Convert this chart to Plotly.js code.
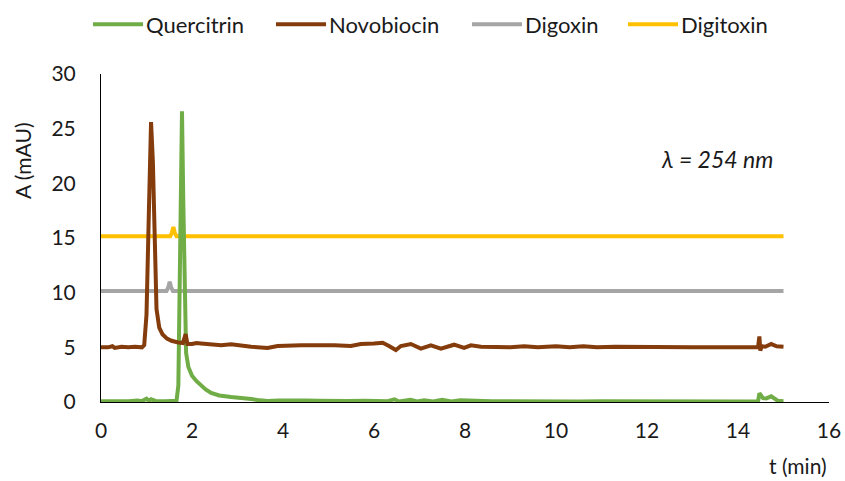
<!DOCTYPE html>
<html>
<head>
<meta charset="utf-8">
<script src="https://cdn.plot.ly/plotly-3.0.1.min.js"></script>
<style>
  html, body { margin: 0; padding: 0; background: #fff; }
  #chart { width: 845px; height: 481px; }
</style>
</head>
<body>
<div id="chart"></div>
<script>
// Chromatograms at 254 nm: absorbance (mAU) against retention time (min)
const seriesNames = ['Quercitrin', 'Novobiocin', 'Digoxin', 'Digitoxin'];
const seriesColors = ['#70AD47', '#843C0C', '#A5A5A5', '#FFC000'];

const quercitrinT = [0, 0.2, 0.4, 0.6, 0.8, 0.9, 1.0, 1.05, 1.1, 1.2, 1.4, 1.6, 1.66, 1.7, 1.74, 1.78, 1.81, 1.84, 1.87, 1.92, 2.0, 2.1, 2.2, 2.3, 2.42, 2.6, 2.86, 3.15, 3.3, 3.44, 3.66, 3.9, 4.2, 4.5, 4.8, 5.1, 5.4, 5.8, 6.1, 6.3, 6.45, 6.55, 6.8, 6.95, 7.1, 7.3, 7.5, 7.7, 7.9, 8.2, 8.6, 9.0, 9.5, 10.0, 10.5, 11.0, 11.5, 12.0, 12.5, 13.0, 13.5, 14.0, 14.44, 14.47, 14.55, 14.62, 14.73, 14.87, 15.0];
const quercitrinA = [0.08, 0.06, 0.1, 0.08, 0.14, 0.08, 0.3, 0.1, 0.25, 0.1, 0.08, 0.08, 0.12, 1.5, 14, 26.6, 18, 8, 4.5, 3.2, 2.4, 1.9, 1.5, 1.15, 0.82, 0.6, 0.45, 0.38, 0.28, 0.18, 0.1, 0.14, 0.18, 0.14, 0.12, 0.15, 0.1, 0.12, 0.15, 0.08, 0.25, 0.05, 0.2, 0.05, 0.15, 0.05, 0.2, 0.05, 0.15, 0.08, 0.06, 0.08, 0.05, 0.07, 0.05, 0.06, 0.05, 0.05, 0.06, 0.05, 0.05, 0.05, 0.05, 0.8, 0.35, 0.33, 0.52, 0.12, 0.08];

const novobiocinT = [0, 0.15, 0.25, 0.3, 0.45, 0.6, 0.75, 0.9, 0.95, 1.0, 1.05, 1.1, 1.14, 1.18, 1.22, 1.28, 1.35, 1.45, 1.55, 1.7, 1.8, 1.86, 1.9, 2.0, 2.1, 2.2, 2.42, 2.64, 2.86, 3.08, 3.3, 3.66, 3.88, 4.4, 4.76, 5.13, 5.49, 5.71, 6.0, 6.19, 6.33, 6.48, 6.59, 6.81, 7.03, 7.25, 7.47, 7.76, 7.98, 8.13, 8.35, 8.79, 9.0, 9.3, 9.6, 10.0, 10.3, 10.6, 10.9, 11.3, 12.0, 13.0, 14.0, 14.44, 14.47, 14.49, 14.52, 14.6, 14.73, 14.85, 15.0];
const novobiocinA = [5.0, 5.0, 5.1, 4.95, 5.05, 5.0, 5.05, 5.0, 5.2, 8, 17, 25.6, 22, 13, 8.5, 6.8, 6.2, 5.8, 5.6, 5.45, 5.4, 6.2, 5.3, 5.3, 5.4, 5.36, 5.27, 5.2, 5.27, 5.12, 5.06, 4.94, 5.12, 5.18, 5.2, 5.18, 5.12, 5.3, 5.36, 5.42, 5.12, 4.75, 5.12, 5.3, 4.88, 5.18, 4.88, 5.24, 4.94, 5.18, 5.06, 5.06, 5.0, 5.1, 5.0, 5.1, 5.0, 5.1, 5.0, 5.05, 5.0, 5.0, 5.0, 5.0, 6.0, 4.7, 5.1, 5.05, 5.3, 5.1, 5.06];

const digoxinT = [0, 1.44, 1.48, 1.51, 1.54, 1.58, 15.0];
const digoxinA = [10.15, 10.15, 10.5, 11.0, 10.5, 10.15, 10.15];

const digitoxinT = [0, 1.52, 1.56, 1.59, 1.62, 1.66, 15.0];
const digitoxinA = [15.15, 15.15, 15.5, 16.0, 15.5, 15.15, 15.15];

const xTicks = [0, 2, 4, 6, 8, 10, 12, 14, 16];
const yTicks = [0, 5, 10, 15, 20, 25, 30];

const FONT = 'Lato, "Open Sans", sans-serif';
const TEXT = '#1a1a1a';

function series(i, t, a) {
  return {
    type: 'scatter', mode: 'lines', name: seriesNames[i],
    x: t, y: a, showlegend: false, hoverinfo: 'skip',
    line: { color: seriesColors[i], width: 4, shape: 'linear' }
  };
}

// cardiac glycosides underneath, then the flavonoid and the antibiotic on top
const data = [
  series(3, digitoxinT, digitoxinA),
  series(2, digoxinT, digoxinA),
  series(0, quercitrinT, quercitrinA),
  series(1, novobiocinT, novobiocinA)
];

// legend row drawn as line samples + labels above the plot
const legendLineStart = [-0.011, 0.2404, 0.5096, 0.7239];
const legendLineLen = 0.0687;
const legendY = 1.152;
const shapes = [];
const annotations = [];
seriesNames.forEach((name, i) => {
  shapes.push({
    type: 'line', xref: 'paper', yref: 'paper',
    x0: legendLineStart[i], x1: legendLineStart[i] + legendLineLen,
    y0: legendY, y1: legendY,
    line: { color: seriesColors[i], width: 4 }
  });
  annotations.push({
    xref: 'paper', yref: 'paper', showarrow: false,
    x: legendLineStart[i] + legendLineLen + 0.002, y: legendY,
    xanchor: 'left', yanchor: 'middle',
    text: name, font: { family: FONT, size: 22, color: TEXT }
  });
});

annotations.push(
  { xref: 'paper', yref: 'paper', showarrow: false, x: -0.107, y: 0.735,
    xanchor: 'center', yanchor: 'middle', textangle: -90,
    text: 'A (mAU)', font: { family: FONT, size: 21, color: TEXT } },
  { xref: 'paper', yref: 'paper', showarrow: false, x: 1.0, y: -0.193,
    xanchor: 'right', yanchor: 'middle',
    text: 't (min)', font: { family: FONT, size: 21, color: TEXT } },
  { xref: 'paper', yref: 'paper', showarrow: false, x: 0.8465, y: 0.74,
    xanchor: 'center', yanchor: 'middle',
    text: '<i>λ = 254 nm</i>', font: { family: FONT, size: 23, color: TEXT } }
);

const layout = {
  width: 845, height: 481,
  margin: { l: 101, r: 16, t: 74, b: 79 },
  paper_bgcolor: '#ffffff', plot_bgcolor: '#ffffff',
  showlegend: false,
  font: { family: FONT, size: 20, color: TEXT },
  xaxis: {
    range: [0, 16], tickvals: xTicks, ticktext: xTicks.map(String),
    showgrid: false, zeroline: false,
    showline: true, linecolor: '#000000', linewidth: 1,
    ticks: '', ticklabelstandoff: 10,
    tickfont: { family: FONT, size: 21, color: TEXT }
  },
  yaxis: {
    range: [0, 30], tickvals: yTicks, ticktext: yTicks.map(String),
    showgrid: false, zeroline: false,
    showline: true, linecolor: '#000000', linewidth: 1,
    ticks: '', ticklabelstandoff: 20,
    tickfont: { family: FONT, size: 21, color: TEXT }
  },
  shapes: shapes,
  annotations: annotations
};

Plotly.newPlot('chart', data, layout, { staticPlot: true, displayModeBar: false });
</script>
</body>
</html>
